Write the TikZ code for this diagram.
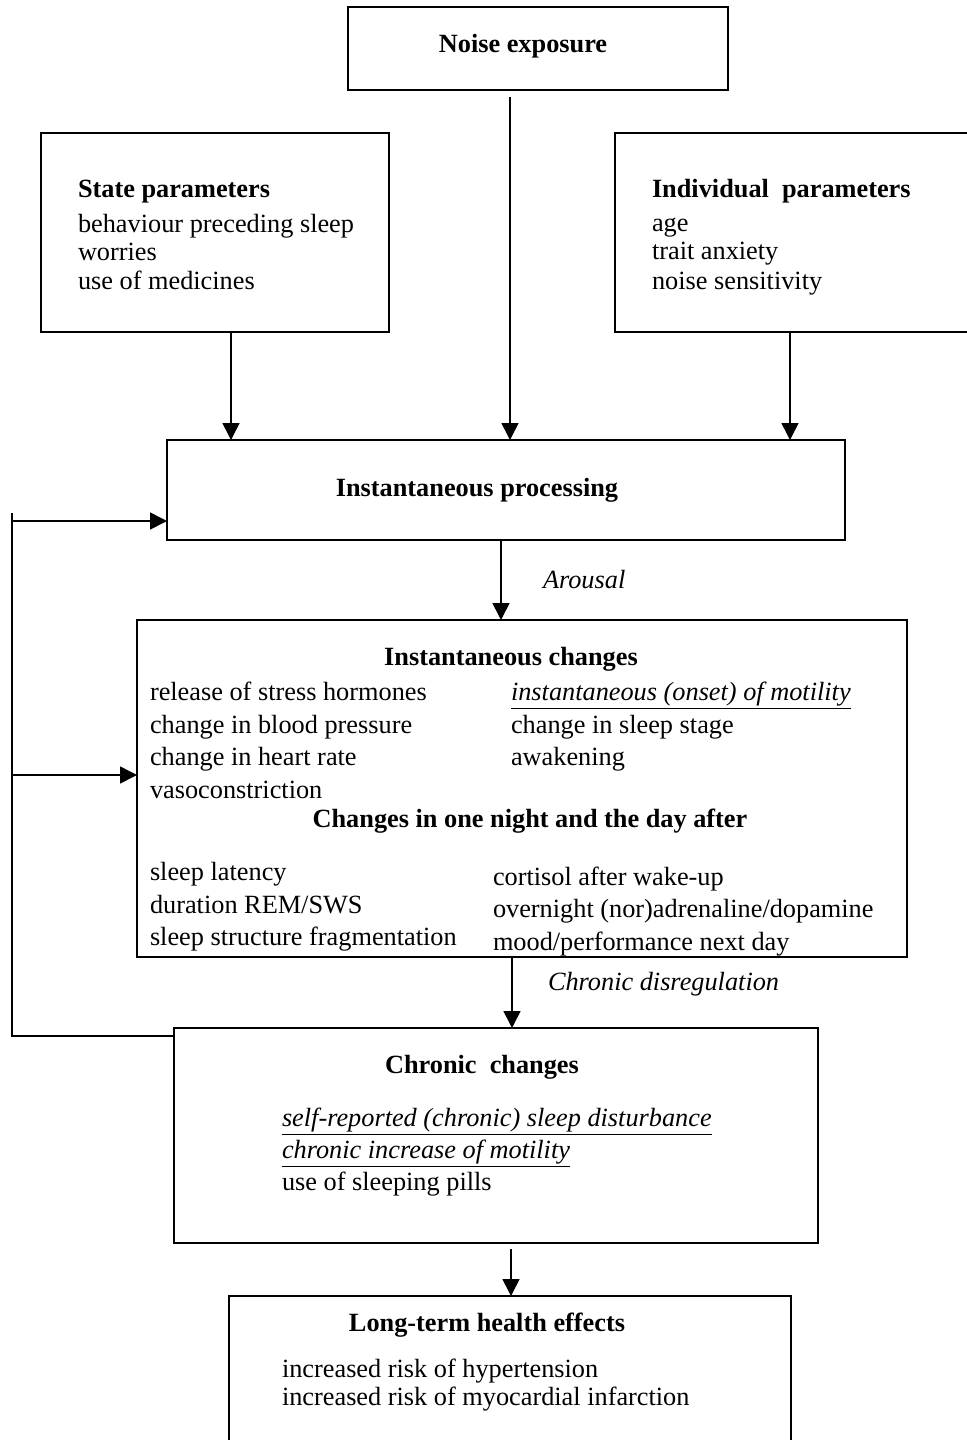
\documentclass[tikz,border=0pt]{standalone}
\usepackage{fontspec}
\setmainfont{Liberation Serif}
\usetikzlibrary{arrows.meta,fit}
\begin{document}
\begin{tikzpicture}[x=0.5pt,y=-0.5pt,
  every node/.style={font=\fontsize{13.15pt}{15pt}\selectfont},
  boxnode/.style={draw,line width=0.8pt,inner sep=0pt,outer sep=0pt},
  txt/.style={anchor=base west,inner sep=0pt,outer sep=0pt},
  ctxt/.style={anchor=base,inner sep=0pt,outer sep=0pt},
  ttl/.style={ctxt,font=\fontsize{13.15pt}{15pt}\selectfont\bfseries},
  lttl/.style={txt,font=\fontsize{13.15pt}{15pt}\selectfont\bfseries},
  lab/.style={txt,font=\fontsize{13.15pt}{15pt}\selectfont\itshape},
  arr/.style={line width=0.8pt,-{Triangle[width=8.5pt,length=8.5pt]}},
  conn/.style={line width=0.8pt}]
\useasboundingbox (0,0) rectangle (966,1440);
\fill[white] (0,0) rectangle (966,1440);

% boxes
\node[boxnode,fit={(348,7) (728,90)}] (noise) {};
\node[boxnode,fit={(41,133) (389,332)}] (state) {};
\node[boxnode,fit={(615,133) (990,332)}] (indiv) {};
\node[boxnode,fit={(167,440) (845,540)}] (proc) {};
\node[boxnode,fit={(137,620) (907,957)}] (instch) {};
\node[boxnode,fit={(174,1028) (818,1243)}] (chronic) {};
\node[boxnode,fit={(229,1296) (791,1470)}] (longterm) {};

% texts
\node[ttl] (tnoise) at (523,52) {Noise exposure};

\node[lttl] (tstate) at (78,197) {State parameters};
\node[txt] (s1) at (78,232) {behaviour preceding sleep};
\node[txt] (s2) at (78,260) {worries};
\node[txt] (s3) at (78,289) {use of medicines};

\node[lttl] (tindiv) at (652,197) {Individual\ \ parameters};
\node[txt] (i1) at (652,231) {age};
\node[txt] (i2) at (652,259) {trait anxiety};
\node[txt] (i3) at (652,289) {noise sensitivity};

\node[ttl] (tproc) at (477,496) {Instantaneous processing};

\node[ttl] (tinst) at (511,665) {Instantaneous changes};
\node[txt] (c1) at (150,700) {release of stress hormones};
\node[txt] (c2) at (150,733) {change in blood pressure};
\node[txt] (c3) at (150,765) {change in heart rate};
\node[txt] (c4) at (150,798) {vasoconstriction};
\node[txt] (c5) at (511,700) {\itshape\underline{instantaneous (onset) of motility}};
\node[txt] (c6) at (511,733) {change in sleep stage};
\node[txt] (c7) at (511,765) {awakening};
\node[ttl] (tnight) at (530,827) {Changes in one night and the day after};
\node[txt] (n1) at (150,880) {sleep latency};
\node[txt] (n2) at (150,913) {duration REM/SWS};
\node[txt] (n3) at (150,945) {sleep structure fragmentation};
\node[txt] (n4) at (493,885) {cortisol after wake-up};
\node[txt] (n5) at (493,917) {overnight (nor)adrenaline/dopamine};
\node[txt] (n6) at (493,950) {mood/performance next day};

\node[ttl] (tchron) at (482,1073) {Chronic\ \ changes};
\node[txt] (h1) at (282,1126) {\itshape\underline{self-reported (chronic) sleep disturbance}};
\node[txt] (h2) at (282,1158) {\itshape\underline{chronic increase of motility}};
\node[txt] (h3) at (282,1190) {use of sleeping pills};

\node[ttl] (tlong) at (487,1331) {Long-term health effects};
\node[txt] (l1) at (282,1377) {increased risk of hypertension};
\node[txt] (l2) at (282,1405) {increased risk of myocardial infarction};

% connectors
\coordinate (nstart) at (510,97);
\draw[arr] (nstart) -- (nstart |- proc.north);
\draw[arr] (state.south -| 231,0) -- (proc.north -| 231,0);
\draw[arr] (indiv.south -| 790,0) -- (proc.north -| 790,0);

\draw[arr] (proc.south -| 501,0) -- (instch.north -| 501,0);
\node[lab] (arousal) at (543,588) {Arousal};

\draw[arr] (instch.south -| 512,0) -- (chronic.north -| 512,0);
\node[lab] (chrdis) at (548,990) {Chronic disregulation};

\coordinate (cstart) at (511,1249);
\draw[arr] (cstart) -- (cstart |- longterm.north);

% feedback loop
\coordinate (fbtop) at (12,513);
\coordinate (fbbot) at (12,1036);
\coordinate (fb1) at (12,521);
\coordinate (fb2) at (12,775);
\draw[conn] (chronic.west |- fbbot) -- (fbbot) -- (fbtop);
\draw[arr] (fb1) -- (fb1 -| proc.west);
\draw[arr] (fb2) -- (fb2 -| instch.west);
\end{tikzpicture}
\end{document}
